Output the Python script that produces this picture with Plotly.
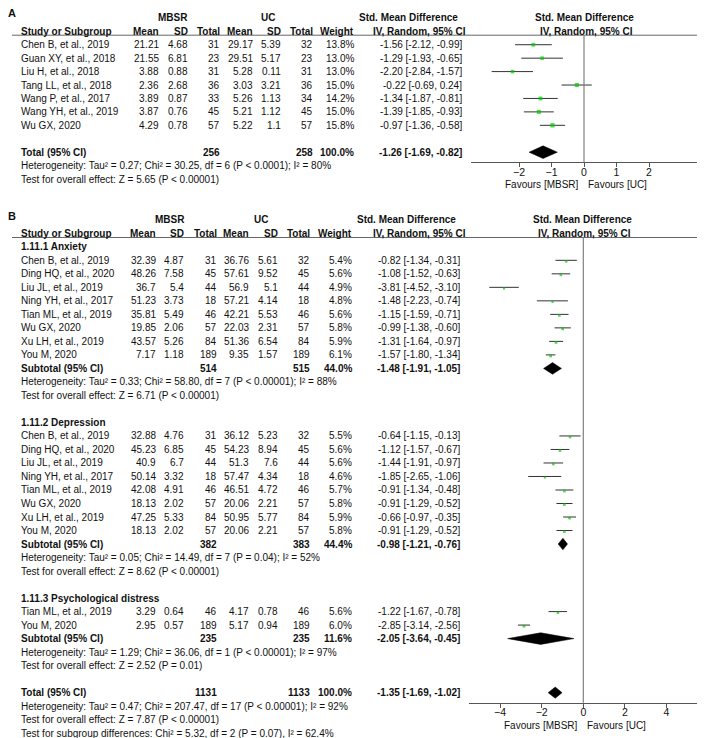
import plotly.graph_objects as go

W, H = 708, 738          # browser window
OX, OY = 8, 8            # default page (body) margin of the html page
FW, FH = W - OX, H - OY  # figure size so that the figure ends exactly at the window edge
FONT = "Liberation Sans, Arial, sans-serif"
FS = 10
TXT = "#111111"

# ---------------- Panel A data ----------------
studies_A = ["Chen B, et al., 2019", "Guan XY, et al., 2018", "Liu H, et al., 2018",
             "Tang LL, et al., 2018", "Wang P, et al., 2017", "Wang YH, et al., 2019", "Wu GX, 2020"]
mbsr_mean_A = [21.21, 21.55, 3.88, 2.36, 3.89, 3.87, 4.29]
mbsr_sd_A = [4.68, 6.81, 0.88, 2.68, 0.87, 0.76, 0.78]
mbsr_n_A = [31, 23, 31, 36, 33, 45, 57]
uc_mean_A = [29.17, 29.51, 5.28, 3.03, 5.26, 5.21, 5.22]
uc_sd_A = [5.39, 5.17, 0.11, 3.21, 1.13, 1.12, 1.1]
uc_n_A = [32, 23, 31, 36, 34, 45, 57]
weight_A = [13.8, 13.0, 13.0, 15.0, 14.2, 15.0, 15.8]
smd_A = [-1.56, -1.29, -2.20, -0.22, -1.34, -1.39, -0.97]
lo_A = [-2.12, -1.93, -2.84, -0.69, -1.87, -1.85, -1.36]
hi_A = [-0.99, -0.65, -1.57, 0.24, -0.81, -0.93, -0.58]
total_A = {"n1": 256, "n2": 258, "w": 100.0, "smd": -1.26, "lo": -1.69, "hi": -0.82}
het_A = "Heterogeneity: Tau² = 0.27; Chi² = 30.25, df = 6 (P < 0.0001); I² = 80%"
test_A = "Test for overall effect: Z = 5.65 (P < 0.00001)"
ticks_A = [-2, -1, 0, 1, 2]

# ---------------- Panel B data ----------------
anx_studies = ["Chen B, et al., 2019", "Ding HQ, et al., 2020", "Liu JL, et al., 2019", "Ning YH, et al., 2017",
               "Tian ML, et al., 2019", "Wu GX, 2020", "Xu LH, et al., 2019", "You M, 2020"]
anx_m1 = [32.39, 48.26, 36.7, 51.23, 35.81, 19.85, 43.57, 7.17]
anx_sd1 = [4.87, 7.58, 5.4, 3.73, 5.49, 2.06, 5.26, 1.18]
anx_n1 = [31, 45, 44, 18, 46, 57, 84, 189]
anx_m2 = [36.76, 57.61, 56.9, 57.21, 42.21, 22.03, 51.36, 9.35]
anx_sd2 = [5.61, 9.52, 5.1, 4.14, 5.53, 2.31, 6.54, 1.57]
anx_n2 = [32, 45, 44, 18, 46, 57, 84, 189]
anx_w = [5.4, 5.6, 4.9, 4.8, 5.6, 5.8, 5.9, 6.1]
anx_smd = [-0.82, -1.08, -3.81, -1.48, -1.15, -0.99, -1.31, -1.57]
anx_lo = [-1.34, -1.52, -4.52, -2.23, -1.59, -1.38, -1.64, -1.80]
anx_hi = [-0.31, -0.63, -3.10, -0.74, -0.71, -0.60, -0.97, -1.34]
anx_sub = {"n1": 514, "n2": 515, "w": 44.0, "smd": -1.48, "lo": -1.91, "hi": -1.05}

dep_studies = ["Chen B, et al., 2019", "Ding HQ, et al., 2020", "Liu JL, et al., 2019", "Ning YH, et al., 2017",
               "Tian ML, et al., 2019", "Wu GX, 2020", "Xu LH, et al., 2019", "You M, 2020"]
dep_m1 = [32.88, 45.23, 40.9, 50.14, 42.08, 18.13, 47.25, 18.13]
dep_sd1 = [4.76, 6.85, 6.7, 3.32, 4.91, 2.02, 5.33, 2.02]
dep_n1 = [31, 45, 44, 18, 46, 57, 84, 57]
dep_m2 = [36.12, 54.23, 51.3, 57.47, 46.51, 20.06, 50.95, 20.06]
dep_sd2 = [5.23, 8.94, 7.6, 4.34, 4.72, 2.21, 5.77, 2.21]
dep_n2 = [32, 45, 44, 18, 46, 57, 84, 57]
dep_w = [5.5, 5.6, 5.6, 4.6, 5.7, 5.8, 5.9, 5.8]
dep_smd = [-0.64, -1.12, -1.44, -1.85, -0.91, -0.91, -0.66, -0.91]
dep_lo = [-1.15, -1.57, -1.91, -2.65, -1.34, -1.29, -0.97, -1.29]
dep_hi = [-0.13, -0.67, -0.97, -1.06, -0.48, -0.52, -0.35, -0.52]
dep_sub = {"n1": 382, "n2": 383, "w": 44.4, "smd": -0.98, "lo": -1.21, "hi": -0.76}

psy_studies = ["Tian ML, et al., 2019", "You M, 2020"]
psy_m1 = [3.29, 2.95]
psy_sd1 = [0.64, 0.57]
psy_n1 = [46, 189]
psy_m2 = [4.17, 5.17]
psy_sd2 = [0.78, 0.94]
psy_n2 = [46, 189]
psy_w = [5.6, 6.0]
psy_smd = [-1.22, -2.85]
psy_lo = [-1.67, -3.14]
psy_hi = [-0.78, -2.56]
psy_sub = {"n1": 235, "n2": 235, "w": 11.6, "smd": -2.05, "lo": -3.64, "hi": -0.45}

total_B = {"n1": 1131, "n2": 1133, "w": 100.0, "smd": -1.35, "lo": -1.69, "hi": -1.02}
group_titles = ["1.11.1 Anxiety", "1.11.2 Depression", "1.11.3 Psychological distress"]
group_het = ["Heterogeneity: Tau² = 0.33; Chi² = 58.80, df = 7 (P < 0.00001); I² = 88%",
             "Heterogeneity: Tau² = 0.05; Chi² = 14.49, df = 7 (P = 0.04); I² = 52%",
             "Heterogeneity: Tau² = 1.29; Chi² = 36.06, df = 1 (P < 0.00001); I² = 97%"]
group_test = ["Test for overall effect: Z = 6.71 (P < 0.00001)",
              "Test for overall effect: Z = 8.62 (P < 0.00001)",
              "Test for overall effect: Z = 2.52 (P = 0.01)"]
het_B = "Heterogeneity: Tau² = 0.47; Chi² = 207.47, df = 17 (P < 0.00001); I² = 92%"
test_B = "Test for overall effect: Z = 7.87 (P < 0.00001)"
subgroup_B = "Test for subgroup differences: Chi² = 5.32, df = 2 (P = 0.07), I² = 62.4%"
ticks_B = [-4, -2, 0, 2, 4]

# ---------------- geometry (window pixels) ----------------
A_TOP, A_STEP = 31.3, 13.43
B_TOP, B_STEP = 233.3, 13.51
SPLIT = 197


def a_px(r):
    return A_TOP + A_STEP * r


def b_px(r):
    return B_TOP + B_STEP * r


def fx(px):
    return (px - OX) / FW


def fy(py):
    return 1 - (py - OY) / FH


def fmt(v):
    return str(v)


fig = go.Figure()


def ann(xpx, ypx, text, anchor="left", bold=False, size=FS, color=TXT):
    fig.add_annotation(x=fx(xpx), y=fy(ypx), xref="paper", yref="paper",
                       text=f"<b>{text}</b>" if bold else text,
                       xanchor=anchor, yanchor="middle", showarrow=False,
                       font=dict(family=FONT, size=size, color=color),
                       borderpad=0, borderwidth=0)


def hline(x0, x1, ypx, color="#666666"):
    fig.add_shape(type="line", xref="paper", yref="paper", x0=fx(x0), x1=fx(x1),
                  y0=fy(ypx), y1=fy(ypx), line=dict(color=color, width=1))


def ci_text(d):
    return f"{d['smd']:.2f} [{d['lo']:.2f}, {d['hi']:.2f}]"


def study_rows(px, cols, rows, studies, m1, sd1, n1, m2, sd2, n2, w, smd, lo, hi):
    for i, r in enumerate(rows):
        y = px(r)
        ann(cols["study"], y, studies[i])
        ann(cols["m1"], y, fmt(m1[i]), "right")
        ann(cols["sd1"], y, fmt(sd1[i]), "right")
        ann(cols["n1"], y, fmt(n1[i]), "right")
        ann(cols["m2"], y, fmt(m2[i]), "right")
        ann(cols["sd2"], y, fmt(sd2[i]), "right")
        ann(cols["n2"], y, fmt(n2[i]), "right")
        ann(cols["w"], y, f"{w[i]:.1f}%", "right")
        ann(cols["ci"], y, f"{smd[i]:.2f} [{lo[i]:.2f}, {hi[i]:.2f}]", "right")


def summary_row(px, cols, r, label, d):
    y = px(r)
    ann(cols["study"], y, label, bold=True)
    ann(cols["n1"], y, fmt(d["n1"]), "right", bold=True)
    ann(cols["n2"], y, fmt(d["n2"]), "right", bold=True)
    ann(cols["w"], y, f"{d['w']:.1f}%", "right", bold=True)
    ann(cols["ci"], y, ci_text(d), "right", bold=True)


def headers(px, cols, mbsr_x, uc_x, smd_x, iv_x, plot_x):
    ann(mbsr_x, px(-1), "MBSR", "center", bold=True)
    ann(uc_x, px(-1), "UC", "center", bold=True)
    ann(smd_x, px(-1), "Std. Mean Difference", "center", bold=True)
    ann(plot_x, px(-1), "Std. Mean Difference", "center", bold=True)
    y = px(0)
    ann(cols["study"], y, "Study or Subgroup", bold=True)
    ann(cols["m1"], y, "Mean", "right", bold=True)
    ann(cols["sd1"], y, "SD", "right", bold=True)
    ann(cols["n1"], y, "Total", "right", bold=True)
    ann(cols["m2"], y, "Mean", "right", bold=True)
    ann(cols["sd2"], y, "SD", "right", bold=True)
    ann(cols["n2"], y, "Total", "right", bold=True)
    ann(cols["w"], y, "Weight", "right", bold=True)
    ann(iv_x, y, "IV, Random, 95% CI", "center", bold=True)
    ann(plot_x + 2, y, "IV, Random, 95% CI", "center", bold=True)


def forest(xa, ya, rows, smd, lo, hi, w, scale, drop):
    xs, ys = [], []
    for r, l, h in zip(rows, lo, hi):
        xs += [l, h, None]
        ys += [r, r, None]
    fig.add_trace(go.Scatter(x=xs, y=ys, mode="lines", line=dict(color="#333333", width=1),
                             xaxis=xa, yaxis=ya, hoverinfo="skip", showlegend=False))
    fig.add_trace(go.Scatter(x=smd, y=[v + drop for v in rows], mode="markers",
                             marker=dict(symbol="square", color="#00c800",
                                         size=[v * scale for v in w], line=dict(width=0)),
                             xaxis=xa, yaxis=ya, hoverinfo="skip", showlegend=False))


def diamond(xa, ya, r, d, hh):
    fig.add_trace(go.Scatter(x=[d["lo"], d["smd"], d["hi"], d["smd"], d["lo"]],
                             y=[r, r - hh, r, r + hh, r], mode="lines", fill="toself",
                             fillcolor="black", line=dict(color="black", width=0.5),
                             xaxis=xa, yaxis=ya, hoverinfo="skip", showlegend=False))


def favours(xref, ypx):
    fig.add_annotation(x=0, y=fy(ypx), xref=xref, yref="paper", text="Favours [MBSR]", xanchor="right",
                       yanchor="middle", xshift=-3, showarrow=False, font=dict(family=FONT, size=FS, color=TXT))
    fig.add_annotation(x=0, y=fy(ypx), xref=xref, yref="paper", text="Favours [UC]", xanchor="left",
                       yanchor="middle", xshift=2, showarrow=False, font=dict(family=FONT, size=FS, color=TXT))


# ---------------- Panel A ----------------
cols_A = dict(study=21, m1=159.3, sd1=187.7, n1=220, m2=252.7, sd2=281, n2=313.3, w=354.3, ci=462.3)
ann(8, 12.5, "A", bold=True, size=11)
headers(a_px, cols_A, 173.3, 268.3, 408, 420, 584.3)
hline(12, 697, 35.2)
rows_A = list(range(1, 1 + len(studies_A)))
study_rows(a_px, cols_A, rows_A, studies_A, mbsr_mean_A, mbsr_sd_A, mbsr_n_A,
           uc_mean_A, uc_sd_A, uc_n_A, weight_A, smd_A, lo_A, hi_A)
r_tot_A = rows_A[-1] + 2
summary_row(a_px, cols_A, r_tot_A, "Total (95% CI)", total_A)
ann(cols_A["study"], a_px(r_tot_A + 1), het_A)
ann(cols_A["study"], a_px(r_tot_A + 2), test_A)

forest("x", "y", rows_A, smd_A, lo_A, hi_A, weight_A, 0.27, 0.0)
diamond("x", "y", r_tot_A, total_A, 0.47)

A_AXIS_PX = 162.3
fig.add_shape(type="line", xref="x", yref="paper", x0=0, x1=0, y0=fy(35.2), y1=fy(A_AXIS_PX),
              line=dict(color="#808080", width=1.2))
favours("x", 184)

# ---------------- Panel B ----------------
cols_B = dict(study=20.7, m1=156, sd1=184.3, n1=216.7, m2=249.3, sd2=278.3, n2=310, w=352.3, ci=460)
ann(8, 215.7, "B", bold=True, size=11)
headers(b_px, cols_B, 170, 261, 406.7, 419.7, 582.7)
hline(12, 697, 237.5)

groups = [
    (anx_studies, anx_m1, anx_sd1, anx_n1, anx_m2, anx_sd2, anx_n2, anx_w, anx_smd, anx_lo, anx_hi, anx_sub),
    (dep_studies, dep_m1, dep_sd1, dep_n1, dep_m2, dep_sd2, dep_n2, dep_w, dep_smd, dep_lo, dep_hi, dep_sub),
    (psy_studies, psy_m1, psy_sd1, psy_n1, psy_m2, psy_sd2, psy_n2, psy_w, psy_smd, psy_lo, psy_hi, psy_sub),
]
r = 1
for gi, g in enumerate(groups):
    st, m1, sd1, n1, m2, sd2, n2, w, smd, lo, hi, sub = g
    ann(cols_B["study"], b_px(r), group_titles[gi], bold=True)
    rows = list(range(r + 1, r + 1 + len(st)))
    study_rows(b_px, cols_B, rows, st, m1, sd1, n1, m2, sd2, n2, w, smd, lo, hi)
    forest("x2", "y2", rows, smd, lo, hi, w, 0.45, 0.08)
    rs = rows[-1] + 1
    summary_row(b_px, cols_B, rs, "Subtotal (95% CI)", sub)
    diamond("x2", "y2", rs, sub, 0.43)
    ann(cols_B["study"], b_px(rs + 1), group_het[gi])
    ann(cols_B["study"], b_px(rs + 2), group_test[gi])
    r = rs + 4

r_tot_B = r
summary_row(b_px, cols_B, r_tot_B, "Total (95% CI)", total_B)
diamond("x2", "y2", r_tot_B, total_B, 0.41)
ann(cols_B["study"], b_px(r_tot_B + 1), het_B)
ann(cols_B["study"], b_px(r_tot_B + 2), test_B)
ann(cols_B["study"], b_px(r_tot_B + 3), subgroup_B)

B_AXIS_PX = 702.7
fig.add_shape(type="line", xref="x2", yref="paper", x0=0, x1=0, y0=fy(237.5), y1=fy(B_AXIS_PX),
              line=dict(color="#808080", width=1.2))
favours("x2", 725.7)

# ---------------- axes ----------------
axis_common = dict(showgrid=False, zeroline=False, showline=True, linecolor="#555555", linewidth=1,
                   ticks="outside", ticklen=4, tickwidth=1, tickcolor="#555555", ticklabelstandoff=-4,
                   tickfont=dict(family=FONT, size=10.5, color=TXT), anchor="free", fixedrange=True)

fig.update_layout(
    width=FW, height=FH,
    margin=dict(l=0, r=0, t=0, b=0),
    paper_bgcolor="white", plot_bgcolor="rgba(0,0,0,0)",
    showlegend=False,
    xaxis=dict(domain=[fx(471), fx(697)], range=[-3.477, 3.477], tickvals=ticks_A,
               position=fy(A_AXIS_PX), **axis_common),
    yaxis=dict(domain=[fy(SPLIT), 1], range=[(SPLIT - A_TOP) / A_STEP, (OY - A_TOP) / A_STEP],
               visible=False, fixedrange=True),
    xaxis2=dict(domain=[fx(469), fx(697)], range=[-5.495, 5.466], tickvals=ticks_B,
                position=fy(B_AXIS_PX), **axis_common),
    yaxis2=dict(domain=[0, fy(SPLIT)], range=[(H - B_TOP) / B_STEP, (SPLIT - B_TOP) / B_STEP],
                visible=False, fixedrange=True),
)

fig.write_html("out.html")
